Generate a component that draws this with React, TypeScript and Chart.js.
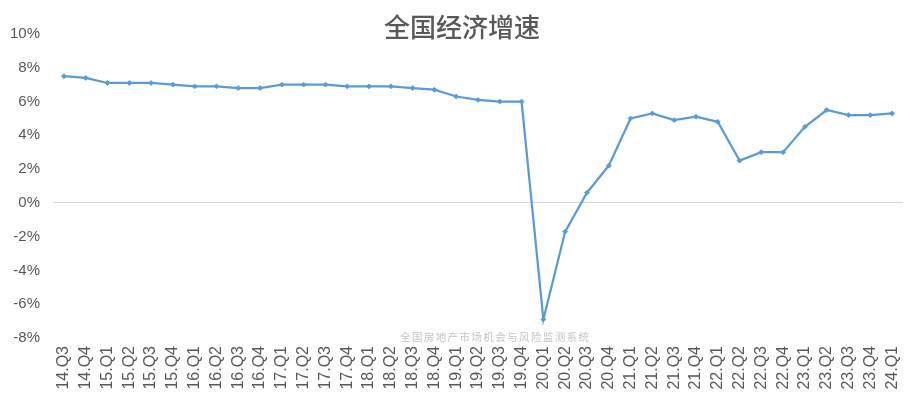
import React, { useEffect, useRef } from "react";
import { Chart, registerables } from "chart.js";

Chart.register(...registerables);

const categories = [
  "14.Q3", "14.Q4",
  "15.Q1", "15.Q2", "15.Q3", "15.Q4",
  "16.Q1", "16.Q2", "16.Q3", "16.Q4",
  "17.Q1", "17.Q2", "17.Q3", "17.Q4",
  "18.Q1", "18.Q2", "18.Q3", "18.Q4",
  "19.Q1", "19.Q2", "19.Q3", "19.Q4",
  "20.Q1", "20.Q2", "20.Q3", "20.Q4",
  "21.Q1", "21.Q2", "21.Q3", "21.Q4",
  "22.Q1", "22.Q2", "22.Q3", "22.Q4",
  "23.Q1", "23.Q2", "23.Q3", "23.Q4",
  "24.Q1",
];

const growth = [
  7.5, 7.4,
  7.1, 7.1, 7.1, 7.0,
  6.9, 6.9, 6.8, 6.8,
  7.0, 7.0, 7.0, 6.9,
  6.9, 6.9, 6.8, 6.7,
  6.3, 6.1, 6.0, 6.0,
  -6.9, -1.7, 0.6, 2.2,
  5.0, 5.3, 4.9, 5.1,
  4.8, 2.5, 3.0, 3.0,
  4.5, 5.5, 5.2, 5.2,
  5.3,
];

const yMin = -8;
const yMax = 10;
const yStep = 2;

const titleText = "全国经济增速";
const watermarkText = "全国房地产市场机会与风险监测系统";

const overlayPlugin = {
  id: "overlay",
  afterDraw(chart: any) {
    const ctx = chart.ctx;
    ctx.save();
    ctx.fillStyle = "#595959";
    ctx.font = "500 26px 'Noto Sans CJK SC'";
    ctx.textAlign = "center";
    ctx.textBaseline = "middle";
    ctx.fillText(titleText, 462, 27);

    ctx.fillStyle = "#c4c4c4";
    ctx.font = "10.5px 'Noto Sans CJK SC'";
    const chars = Array.from(watermarkText);
    const step = 11.9;
    const x0 = 400;
    chars.forEach((c, i) => {
      ctx.textAlign = "left";
      ctx.fillText(c, x0 + i * step, 337);
    });
    ctx.restore();
  },
};

export default function App() {
  const ref = useRef<HTMLCanvasElement | null>(null);

  useEffect(() => {
    document.body.style.margin = "0";
    const canvas = ref.current;
    if (!canvas) return;
    const chart = new Chart(canvas, {
      type: "line",
      data: {
        labels: categories,
        datasets: [
          {
            data: growth,
            borderColor: "#5B9BD5",
            backgroundColor: "#5B9BD5",
            borderWidth: 2.25,
            pointStyle: "rectRot",
            pointRadius: 2.4,
            pointBorderWidth: 1,
            tension: 0,
          },
        ],
      },
      options: {
        responsive: false,
        animation: false,
        layout: { padding: { top: 34, right: 7, left: 0, bottom: 0 } },
        plugins: {
          legend: { display: false },
          title: { display: false },
          tooltip: { enabled: false },
        },
        scales: {
          x: {
            offset: true,
            grid: { display: false, drawTicks: false },
            border: { display: false },
            ticks: {
              autoSkip: false,
              minRotation: 90,
              maxRotation: 90,
              padding: 8,
              color: "#595959",
              font: { family: "'Liberation Sans', Arial", size: 16 },
            },
            afterFit(scale: any) {
              scale.height = 71;
              scale.paddingLeft = 0;
              scale.paddingRight = 0;
            },
          },
          y: {
            min: yMin,
            max: yMax,
            ticks: {
              stepSize: yStep,
              padding: 13,
              color: "#595959",
              font: { family: "'Liberation Sans Narrow', 'Liberation Sans', Arial", size: 15 },
              callback: (v: any) => `${v}%`,
            },
            grid: {
              drawTicks: false,
              color: (c: any) => (c.tick && c.tick.value === 0 ? "#d9d9d9" : "rgba(0,0,0,0)"),
              lineWidth: 1,
            },
            border: { display: false },
            afterFit(scale: any) {
              scale.width = 53;
            },
          },
        },
      },
      plugins: [overlayPlugin],
    });
    return () => chart.destroy();
  }, []);

  return (
    <div style={{ position: "absolute", left: 0, top: 0, width: 910, height: 409, background: "#fff" }}>
      <canvas ref={ref} width={910} height={409} style={{ width: 910, height: 409 }} />
    </div>
  );
}
